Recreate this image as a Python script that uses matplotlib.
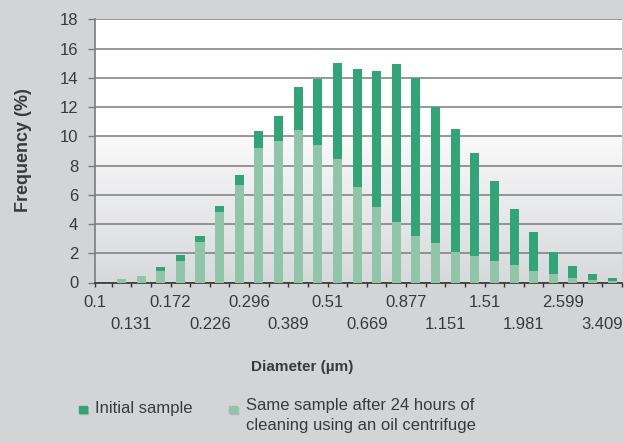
#!/usr/bin/env python3
"""Particle size distribution before/after oil centrifuge cleaning."""
import numpy as np
import matplotlib

matplotlib.use("Agg")
import matplotlib.pyplot as plt  # noqa: E402
from matplotlib.patches import Rectangle  # noqa: E402

plt.rcParams["font.family"] = ["Liberation Sans", "DejaVu Sans"]

# bin-edge labels (every second edge is labelled)
diam_labels = ["0.1", "0.131", "0.172", "0.226", "0.296", "0.389", "0.51",
               "0.669", "0.877", "1.151", "1.51", "1.981", "2.599", "3.409"]

# frequency (%) per size bin
initial = [0, 0.2, 0.35, 1.05, 1.91, 3.2, 5.25, 7.37, 10.39, 11.41, 13.39,
           13.94, 15.03, 14.62, 14.49, 14.97, 13.99, 12.03, 10.52, 8.88,
           6.95, 5.05, 3.48, 2.11, 1.16, 0.61, 0.34]
cleaned = [0, 0.27, 0.43, 0.82, 1.5, 2.8, 4.84, 6.68, 9.23, 9.70, 10.46,
           9.43, 8.47, 6.56, 5.13, 4.17, 3.21, 2.67, 2.12, 1.78, 1.5, 1.23,
           0.82, 0.61, 0.34, 0.14, 0.07]

DARK = "#31a578"
LIGHT = "#8fc6a8"
BG = "#d3d4d6"
TXT = "#3a3a3a"

W, H = 624, 443
fig = plt.figure(figsize=(W / 100, H / 100), dpi=100, facecolor=BG)
ax = fig.add_axes([95 / W, 1 - 282.5 / H, 527 / W, (282.5 - 19.3) / H])
ax.set_facecolor("white")

# background gradient: white above 10 %, fading to grey towards 0
ys = np.linspace(18, 0, 300)
top = np.array([249, 249, 250]) / 255
bot = np.array([216, 217, 219]) / 255
grad = np.ones((300, 1, 3))
low = ys < 10
t = (ys[low] / 10)[:, None]
grad[low, 0, :] = bot + (top - bot) * t
ax.imshow(grad, extent=[0, 1, 0, 1], transform=ax.transAxes,
          aspect="auto", zorder=0)

x = np.arange(len(initial))
ax.bar(x, initial, width=0.46, color=DARK, zorder=3)
ax.bar(x, cleaned, width=0.46, color=LIGHT, zorder=4)

ax.set_xlim(-0.35, len(initial) - 0.5)
ax.set_ylim(0, 18)
ax.set_yticks(range(0, 19, 2))
ax.yaxis.grid(True, color="#7c7c7c", lw=1.1, zorder=1)
ax.set_axisbelow(True)

# ticks on every bin edge, labels on every second edge in two rows
edges = [-0.35] + [e + 0.5 for e in range(len(initial))]
labels = [""] * len(edges)
labels[0] = diam_labels[0]
for k, lab in enumerate(diam_labels[1:], start=1):
    idx = 2 * k  # edge 2k-0.5 -> list position 2k
    labels[idx] = lab if k % 2 == 0 else "\n" + lab
ax.set_xticks(edges)
ax.set_xticklabels(labels)
for lbl in ax.get_xticklabels():
    lbl.set_linespacing(1.55)

for s in ("top", "right"):
    ax.spines[s].set_visible(False)
ax.spines["left"].set_color("#7c7c7c")
ax.spines["left"].set_linewidth(1.2)
ax.spines["bottom"].set_color("#333333")
ax.spines["bottom"].set_linewidth(1.2)
ax.tick_params(axis="x", length=3, width=1, color="#333333", pad=6,
               labelsize=12, labelcolor=TXT)
ax.tick_params(axis="y", length=5, width=1, color="#7c7c7c", pad=7,
               labelsize=12, labelcolor=TXT)

fig.text(23.5 / W, 1 - 150.5 / H, "Frequency (%)", rotation=90,
         ha="center", va="center", fontsize=13, fontweight="bold", color=TXT)
fig.text(302 / W, 1 - 367 / H, "Diameter (\u00b5m)", ha="center",
         va="center", fontsize=11, fontweight="bold", color=TXT)

# legend
for x0, col in ((79, DARK), (229, LIGHT)):
    fig.patches.append(Rectangle((x0 / W + 1.2 / W, 1 - 413.5 / H), 8 / W, 7 / H,
                                 transform=fig.transFigure,
                                 color="#b4b5b7", zorder=1))
    fig.patches.append(Rectangle((x0 / W, 1 - 412.5 / H), 8 / W, 7 / H,
                                 transform=fig.transFigure, color=col,
                                 zorder=2))
fig.text(95 / W, 1 - 409 / H, "Initial sample", ha="left", va="center",
         fontsize=12, color=TXT)
fig.text(246 / W, 1 - 398 / H,
         "Same sample after 24 hours of\ncleaning using an oil centrifuge",
         ha="left", va="top", fontsize=12, color=TXT, linespacing=1.45)

fig.savefig("out.png", dpi=100, facecolor=BG)
